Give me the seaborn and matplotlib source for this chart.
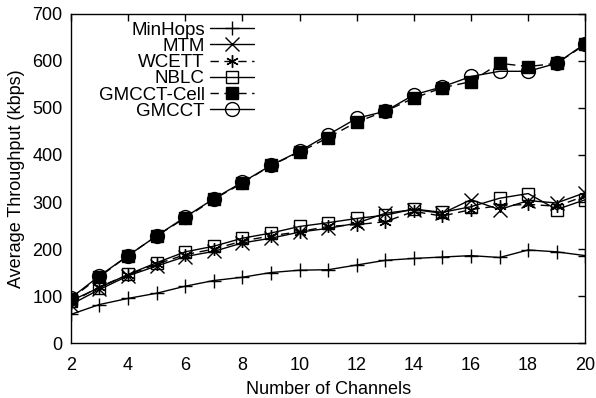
import matplotlib as mpl
mpl.use('agg')
import matplotlib.pyplot as plt
import seaborn as sns
import numpy as np

sns.set_theme(style='white')
plt.rcParams['font.family'] = ['Liberation Sans', 'DejaVu Sans']
plt.rcParams['text.color'] = 'black'

# --- data
channels = list(range(2, 21))
minhops = [61, 82, 95, 106, 121, 133, 140, 150, 155, 156, 166, 176, 180, 183, 186, 182, 198, 194, 186]
mtm = [82, 114, 143, 164, 184, 195, 213, 223, 236, 244, 255, 276, 284, 276, 305, 284, 303, 298, 320]
wcett = [86, 120, 145, 168, 188, 200, 217, 228, 237, 248, 252, 258, 280, 270, 284, 292, 295, 291, 313]
nblc = [90, 118, 146, 171, 194, 206, 223, 234, 248, 256, 265, 272, 285, 278, 290, 308, 318, 284, 305]
gmcct_cell = [94, 141, 186, 228, 266, 306, 340, 378, 406, 437, 470, 493, 521, 543, 556, 595, 588, 595, 635]
gmcct = [96, 143, 186, 228, 268, 307, 342, 378, 408, 443, 478, 493, 528, 545, 567, 578, 578, 595, 637]

labels = ['MinHops', 'MTM', 'WCETT', 'NBLC', 'GMCCT-Cell', 'GMCCT']
series = [minhops, mtm, wcett, nblc, gmcct_cell, gmcct]
markers = ['+', 'x', (6, 2, 0), 's', 's', 'o']
facecols = ['black', 'black', 'black', 'none', 'black', 'none']
msizes = [10, 10, 9, 9, 9, 10]
dash = (0, (6, 4))
styles = ['-', '-', dash, '-', dash, '-']

fig, ax = plt.subplots(figsize=(5.96, 3.98), dpi=100)
fig.subplots_adjust(left=0.119, right=0.982, top=0.965, bottom=0.138)

for i in range(len(series)):
    sns.lineplot(x=channels, y=series[i],
                 color='black',
                 linestyle=styles[i],
                 linewidth=1.0,
                 marker=markers[i],
                 markersize=msizes[i],
                 markerfacecolor=facecols[i],
                 markeredgecolor='black',
                 markeredgewidth=1.0,
                 label=labels[i],
                 ax=ax)

ax.set_xlim(2, 20)
ax.set_ylim(0, 700)
ax.set_xticks(np.arange(2, 21, 2))
ax.set_yticks(np.arange(0, 701, 100))
ax.tick_params(direction='in', length=5, width=1, top=True, right=True,
               labelsize=13, colors='black')
ax.tick_params(axis='x', pad=10)
ax.tick_params(axis='y', pad=6)
for s in ax.spines.values():
    s.set_color('black')
    s.set_linewidth(1.0)
ax.set_xlabel('Number of Channels', fontsize=13, color='black', labelpad=5)
ax.set_ylabel('Average Throughput (kbps)', fontsize=13, color='black', labelpad=5)

leg = ax.legend(loc='upper left', bbox_to_anchor=(0.025, 1.022), frameon=False,
                markerfirst=False, fontsize=13.5, handlelength=2.3,
                handletextpad=0.3, labelspacing=-0.05, borderpad=0.3)
for col in leg._legend_handle_box.get_children():
    col.align = 'right'
for t in leg.get_texts():
    t.set_color('black')

plt.savefig('out.png', dpi=100)
plt.close(fig)
